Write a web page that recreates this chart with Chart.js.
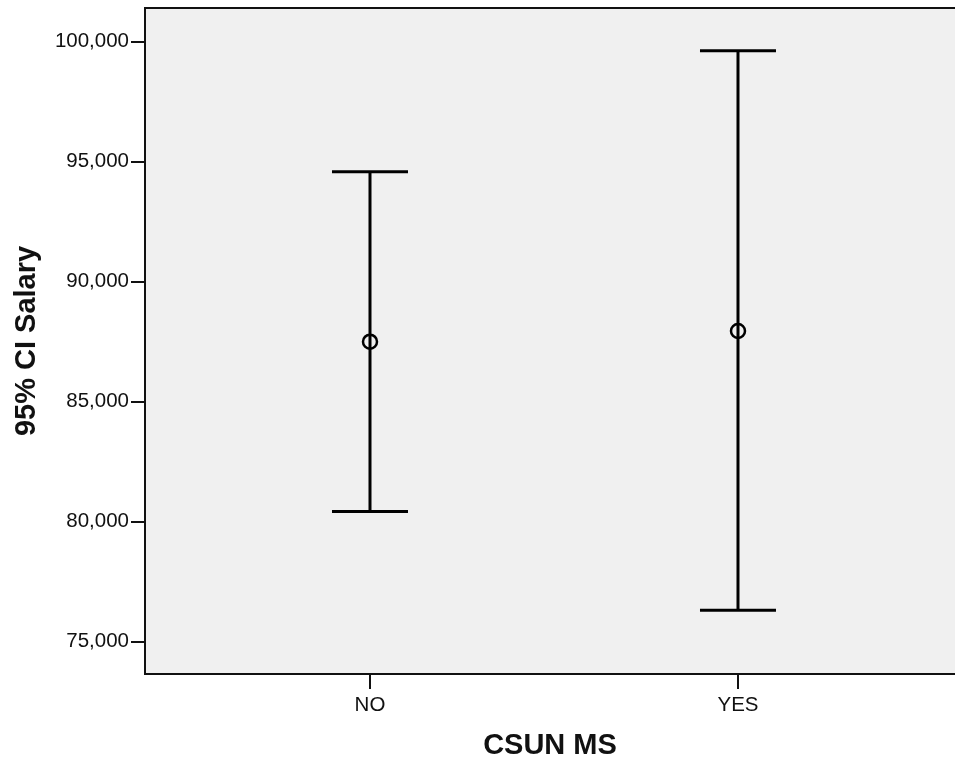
<!DOCTYPE html>
<html lang="en">
<head>
    <meta charset="UTF-8">
    <title>95% CI Salary by CSUN MS</title>
    <style>
        body { margin: 0; background: #fff; }
        #chart { display: block; }
    </style>
</head>
<body>
    <canvas id="chart" width="955" height="762"></canvas>

    <script src="https://cdn.jsdelivr.net/npm/chart.js@4.4.1/dist/chart.umd.min.js"></script>
    <script>
    // datos
    const groups = ['NO', 'YES'];
    const means = [87500, 87946];
    const lower = [80430, 76308];
    const upper = [94583, 99625];
    const yTicks = [75000, 80000, 85000, 90000, 95000, 100000];

    // fondo gris del area y linea superior
    const plotBox = {
        id: 'plotBox',
        beforeDraw(chart) {
            const { ctx, chartArea: a } = chart;
            ctx.save();
            ctx.fillStyle = '#f0f0f0';
            ctx.fillRect(a.left, a.top, a.right - a.left, a.bottom - a.top);
            ctx.strokeStyle = '#111';
            ctx.lineWidth = 2;
            ctx.beginPath();
            ctx.moveTo(a.left, a.top);
            ctx.lineTo(a.right, a.top);
            ctx.stroke();
            ctx.restore();
        }
    };

    const datasets = [];

    // punto de la media
    datasets.push({
        label: 'Mean',
        data: groups.map((g, i) => ({ x: i, y: means[i] })),
        pointStyle: 'circle',
        pointRadius: 7,
        pointBorderWidth: 2.5,
        pointBorderColor: '#000',
        pointBackgroundColor: 'rgba(0,0,0,0)'
    });

    // extremos del intervalo
    datasets.push({
        label: 'Caps',
        data: groups.flatMap((g, i) => [{ x: i, y: lower[i] }, { x: i, y: upper[i] }]),
        pointStyle: 'line',
        pointRadius: 38,
        pointBorderWidth: 3,
        pointBorderColor: '#000'
    });

    // lineas verticales
    groups.forEach((g, i) => {
        datasets.push({
            label: 'CI ' + g,
            data: [{ x: i, y: lower[i] }, { x: i, y: upper[i] }],
            showLine: true,
            borderColor: '#000',
            borderWidth: 3,
            pointRadius: 0
        });
    });

    new Chart(document.getElementById('chart'), {
        type: 'scatter',
        data: { datasets },
        plugins: [plotBox],
        options: {
            responsive: false,
            animation: false,
            devicePixelRatio: 1,
            layout: { autoPadding: false, padding: { top: 8, right: 0, left: 0, bottom: 0 } },
            plugins: {
                legend: { display: false },
                tooltip: { enabled: false }
            },
            scales: {
                x: {
                    type: 'linear',
                    min: -0.6114,
                    max: 1.5897,
                    afterBuildTicks: s => { s.ticks = groups.map((g, i) => ({ value: i })); },
                    afterFit: s => { s.height = 88; s.paddingLeft = 0; s.paddingRight = 0; },
                    ticks: {
                        callback: v => groups[v],
                        color: '#111',
                        padding: 4,
                        font: { family: 'Liberation Sans, Arial, sans-serif', size: 20.5 }
                    },
                    grid: { drawOnChartArea: false, drawTicks: true, tickLength: 15, color: '#111', lineWidth: 2 },
                    border: { display: true, color: '#111', width: 2 },
                    title: {
                        display: true,
                        text: 'CSUN MS',
                        color: '#111',
                        padding: { top: 0, bottom: 2 },
                        font: { family: 'Liberation Sans, Arial, sans-serif', size: 29, weight: 'bold', lineHeight: 1 }
                    }
                },
                y: {
                    min: 73654,
                    max: 101404,
                    afterBuildTicks: s => { s.ticks = yTicks.map(v => ({ value: v })); },
                    afterFit: s => { s.width = 145; s.paddingTop = 0; s.paddingBottom = 0; },
                    ticks: {
                        callback: v => v.toLocaleString('en-US'),
                        color: '#111',
                        padding: 2,
                        font: { family: 'Liberation Sans, Arial, sans-serif', size: 20.5 }
                    },
                    grid: { drawOnChartArea: false, drawTicks: true, tickLength: 14, color: '#111', lineWidth: 2 },
                    border: { display: true, color: '#111', width: 2 },
                    title: {
                        display: true,
                        text: '95% CI Salary',
                        color: '#111',
                        padding: { top: 10, bottom: 0 },
                        font: { family: 'Liberation Sans, Arial, sans-serif', size: 29, weight: 'bold', lineHeight: 1.2 }
                    }
                }
            }
        }
    });
    </script>
</body>
</html>
